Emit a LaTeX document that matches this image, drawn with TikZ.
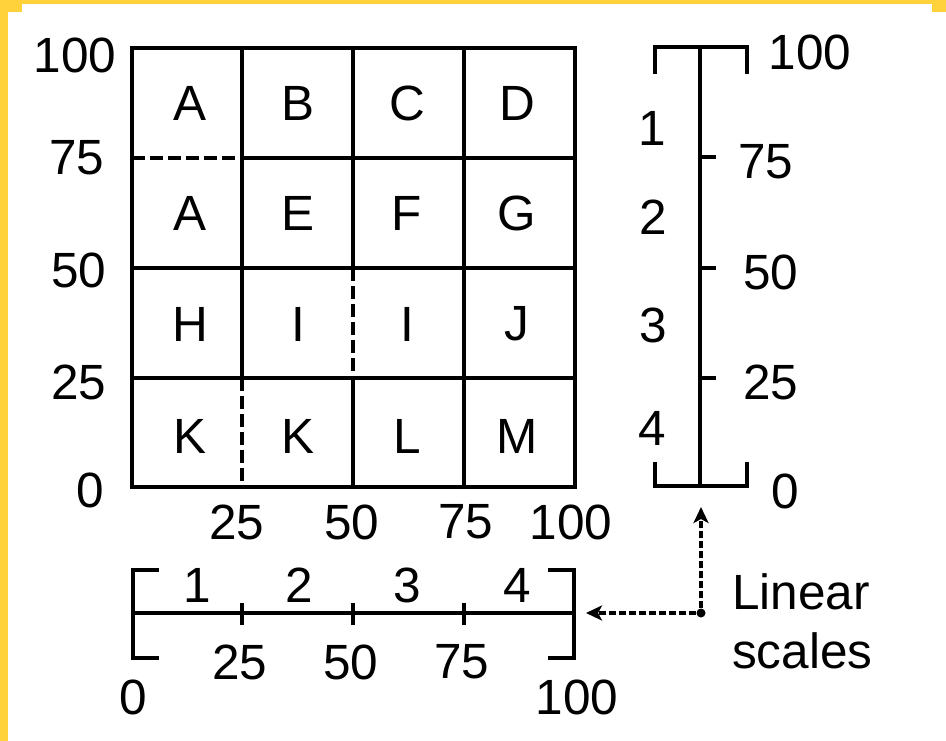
\documentclass[tikz,border=0pt]{standalone}
\usepackage{fontspec}
\setmainfont{Liberation Sans}
\usetikzlibrary{arrows.meta}
\definecolor{cframe}{HTML}{FFD13B}

\begin{document}
\begin{tikzpicture}[x=1pt,y=-1pt,
  lbl/.style={font=\fontsize{49.5}{56}\selectfont,inner sep=0pt},
  rule/.style={line width=3.2pt},
  cut/.style={line width=3.2pt,dash pattern=on 13pt off 5pt},
  link/.style={line width=3.2pt,dash pattern=on 7pt off 3pt,
    -{Stealth[length=16pt,width=15pt,inset=4pt]}},
  joint/.style={circle,fill,inner sep=0pt,minimum size=9pt}]
  \useasboundingbox (0,0) rectangle (946,741);
  \fill[white] (0,0) rectangle (946,741);
  \fill[cframe] (0,0) rectangle (946,4);
  \fill[cframe] (0,0) rectangle (8,741);
  \fill[cframe] (0,0) rectangle (22,12);
  \fill[cframe] (932,0) rectangle (946,12);

  % grid of regions
  \draw[rule,line width=3.6pt] (132,48) rectangle (575,487);
  \draw[rule] (242,158) -- (575,158);
  \draw[rule] (132,268) -- (575,268);
  \draw[rule] (132,378) -- (575,378);
  \draw[rule] (242,48) -- (242,378);
  \draw[rule] (353,48) -- (353,268);
  \draw[rule] (353,378) -- (353,487);
  \draw[rule] (464,48) -- (464,487);
  \draw[cut] (132,158) -- (242,158);
  \draw[cut] (353,268) -- (353,378);
  \draw[cut] (242,378) -- (242,487);

  \node[lbl] (a1) at (190,103) {A};
  \node[lbl] (b1) at (298,103) {B};
  \node[lbl] (c1) at (407,103) {C};
  \node[lbl] (d1) at (517,103) {D};
  \node[lbl] (a2) at (190,213) {A};
  \node[lbl] (e2) at (298,213) {E};
  \node[lbl] (f2) at (407,213) {F};
  \node[lbl] (g2) at (517,213) {G};
  \node[lbl] (h3) at (190,324) {H};
  \node[lbl] (i3) at (298,324) {I};
  \node[lbl] (i4) at (407,324) {I};
  \node[lbl] (j3) at (517,324) {J};
  \node[lbl] (k4) at (190,436) {K};
  \node[lbl] (k5) at (298,436) {K};
  \node[lbl] (l4) at (407,436) {L};
  \node[lbl] (m4) at (517,436) {M};

  \node[lbl] (y100) at (75,55) {100};
  \node[lbl] (y75) at (77,158) {75};
  \node[lbl] (y50) at (79,270) {50};
  \node[lbl] (y25) at (79,382) {25};
  \node[lbl] (y0) at (90,490) {0};
  \node[lbl] (x25) at (237,522) {25};
  \node[lbl] (x50) at (352,522) {50};
  \node[lbl] (x75) at (466,522) {75};
  \node[lbl] (x100) at (571,522) {100};

  % vertical scale
  \draw[rule] (700,47) -- (700,486);
  \draw[rule] (655,74) -- (655,47) -- (747,47) -- (747,74);
  \draw[rule] (655,462) -- (655,486) -- (747,486) -- (747,462);
  \draw[rule] (700,157) -- (716,157);
  \draw[rule] (700,268) -- (716,268);
  \draw[rule] (700,378) -- (716,378);
  \node[lbl] (v1) at (652,128) {1};
  \node[lbl] (v2) at (653,217) {2};
  \node[lbl] (v3) at (653,325) {3};
  \node[lbl] (v4) at (652,428) {4};
  \node[lbl] (r100) at (810,52) {100};
  \node[lbl] (r75) at (766,162) {75};
  \node[lbl] (r50) at (771,272) {50};
  \node[lbl] (r25) at (771,382) {25};
  \node[lbl] (r0) at (785,491) {0};

  % horizontal scale
  \draw[rule] (133,613) -- (574,613);
  \draw[rule] (159,570) -- (133,570) -- (133,658) -- (159,658);
  \draw[rule] (548,570) -- (574,570) -- (574,658) -- (548,658);
  \draw[rule] (242,603) -- (242,625);
  \draw[rule] (353,603) -- (353,625);
  \draw[rule] (464,603) -- (464,625);
  \node[lbl] (h1) at (197,585) {1};
  \node[lbl] (h2) at (299,585) {2};
  \node[lbl] (h3) at (407,585) {3};
  \node[lbl] (h4) at (517,585) {4};
  \node[lbl] (b25) at (240,662) {25};
  \node[lbl] (b50) at (351,662) {50};
  \node[lbl] (b75) at (462,662) {75};
  \node[lbl] (b0) at (133,697) {0};
  \node[lbl] (b100) at (577,697) {100};

  % pointers to the scales
  \node[joint] (corner) at (701,613) {};
  \coordinate (vend) at (701,507);
  \coordinate (hend) at (586,613);
  \draw[link] (corner) -- (vend);
  \draw[link] (corner) -- (hend);
  \node[lbl,anchor=base west] (linear) at (732,609) {Linear};
  \node[lbl,anchor=base west] (scales) at (732,668) {scales};
\end{tikzpicture}
\end{document}
